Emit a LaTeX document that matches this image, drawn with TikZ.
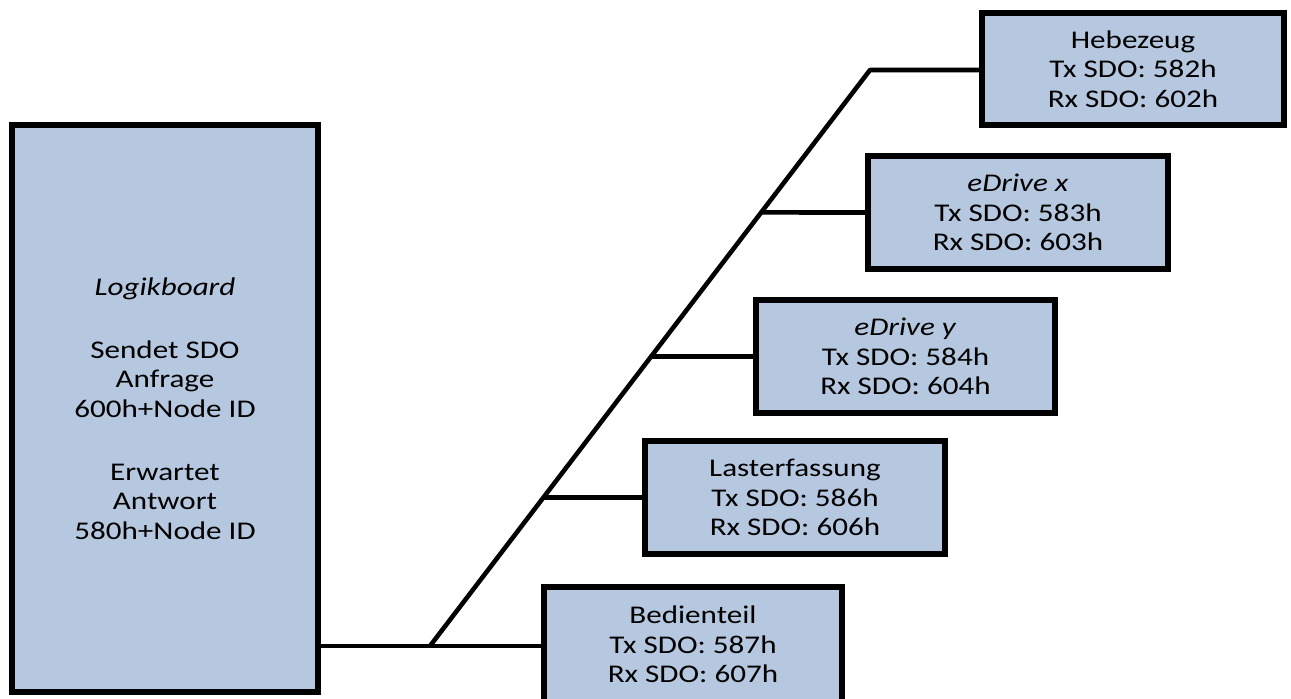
\documentclass[tikz,border=0pt]{standalone}
\usepackage{fontspec}
\setmainfont{Carlito}[FakeStretch=1.22]
\usetikzlibrary{calc}
\definecolor{boxblue}{RGB}{182,200,224}
\begin{document}
\begin{tikzpicture}[
  every node/.style={font=\fontsize{14.5}{16.8}\selectfont},
  devbox/.style={draw, line width=3.4pt, fill=boxblue, align=center,
                 minimum width=6cm, minimum height=2.26cm, inner sep=0pt},
  bus/.style={line width=2.6pt}
]
  \clip (0,0) rectangle (25.82,13.96);

  % Steuerung
  \node[devbox, minimum width=6.12cm, minimum height=11.34cm] (logik) at (3.30,5.79)
    {\textit{Logikboard}\\[19pt] Sendet SDO\\ Anfrage\\ 600h+Node ID\\[19pt] Erwartet\\ Antwort\\ 580h+Node ID};

  % Teilnehmer am Bus
  \node[devbox, minimum width=6.04cm, minimum height=2.24cm] (hebe) at (22.66,12.58)
    {Hebezeug\\ Tx SDO: 582h\\ Rx SDO: 602h};
  \node[devbox] (edx) at (20.36,9.71)
    {\textit{eDrive x}\\ Tx SDO: 583h\\ Rx SDO: 603h};
  \node[devbox, minimum width=5.98cm] (edy) at (18.11,6.83)
    {\textit{eDrive y}\\ Tx SDO: 584h\\ Rx SDO: 604h};
  \node[devbox] (laster) at (15.90,4.01)
    {Lasterfassung\\ Tx SDO: 586h\\ Rx SDO: 606h};
  \node[devbox, minimum width=5.96cm, minimum height=2.3cm] (bedien) at (13.86,1.07)
    {Bedienteil\\ Tx SDO: 587h\\ Rx SDO: 607h};

  % Busleitung
  \coordinate (busA) at (8.60,1.04);
  \coordinate (busB) at (17.40,12.56);
  \draw[bus] (logik.east |- busA) -- (bedien.west |- busA);
  \draw[bus, line join=round] (busA) -- (busB) -- (hebe.west |- busB);
  \foreach \n in {edx, edy, laster}
    \draw[bus] (intersection of busA--busB and \n.west--\n.east) -- (\n.west);
\end{tikzpicture}
\end{document}
